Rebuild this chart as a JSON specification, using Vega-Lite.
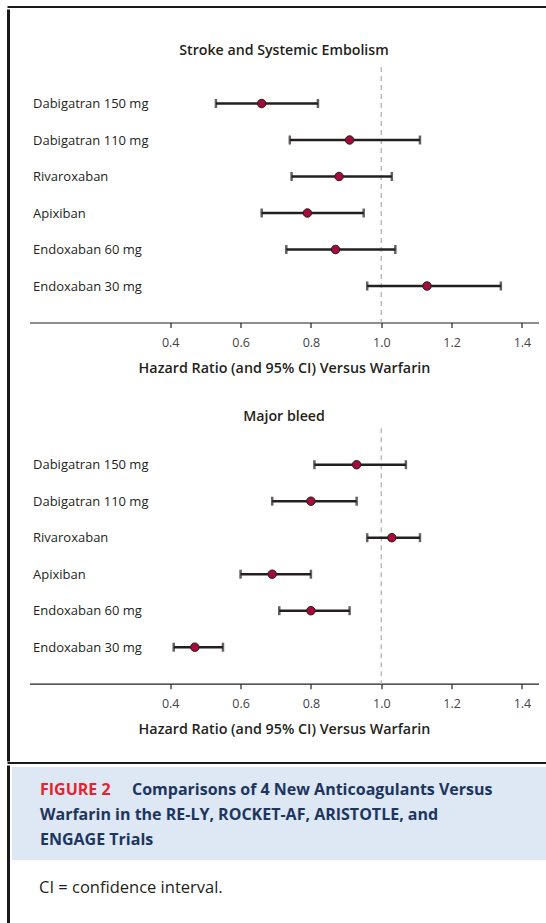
{
  "$schema": "https://vega.github.io/schema/vega-lite/v6.json",
  "padding": {"left": 6.5, "top": 6, "right": 0, "bottom": 0},
  "background": "white",
  "config": {
    "view": {"stroke": null},
    "font": "Open Sans",
    "axis": {"grid": false}
  },
  "spacing": 0,
  "vconcat": [
    {"width": 538, "height": 0.01, "view": {"stroke": "#1a1a1a", "strokeWidth": 2}, "data": {"values": []}, "mark": "point", "encoding": {}},
    {
      "spacing": 19,
      "hconcat": [
        {"width": 0.01, "height": 749, "view": {"stroke": "#1a1a1a", "strokeWidth": 3}, "data": {"values": []}, "mark": "point", "encoding": {}},
        {
          "spacing": 31,
          "vconcat": [
            {"width": 509, "height": 0.01, "data": {"values": []}, "mark": "point", "encoding": {}},
            {
              "spacing": 34.2,
              "vconcat": [
                {
                  "width": 509,
                  "height": 255.5,
                  "title": {"text": "Stroke and Systemic Embolism", "fontSize": 14.2, "fontWeight": 600, "color": "#231f20", "offset": 8.5, "font": "Open Sans"},
                  "data": {"values": [
                    {"drug": "Dabigatran 150 mg", "hr": 0.66, "lo": 0.53, "hi": 0.82},
                    {"drug": "Dabigatran 110 mg", "hr": 0.91, "lo": 0.74, "hi": 1.11},
                    {"drug": "Rivaroxaban", "hr": 0.88, "lo": 0.745, "hi": 1.03},
                    {"drug": "Apixiban", "hr": 0.79, "lo": 0.66, "hi": 0.95},
                    {"drug": "Endoxaban 60 mg", "hr": 0.87, "lo": 0.73, "hi": 1.04},
                    {"drug": "Endoxaban 30 mg", "hr": 1.13, "lo": 0.96, "hi": 1.34}
                  ]},
                  "layer": [
                    {
                      "data": {"values": [{"ref": 1}]},
                      "mark": {"type": "rule", "color": "#bdbdbd", "strokeWidth": 1.5, "strokeDash": [5, 4]},
                      "encoding": {
                        "x": {"field": "ref", "type": "quantitative", "scale": {"domain": [0, 1.447], "nice": false, "zero": false},
                          "axis": {"values": [0.4, 0.6, 0.8, 1.0, 1.2, 1.4], "format": ".1f", "title": "Hazard Ratio (and 95% CI) Versus Warfarin", "tickSize": 5, "tickColor": "#231f20", "domainColor": "#231f20", "domainWidth": 1.2, "tickWidth": 1.2, "labelFontSize": 12.5, "labelColor": "#444444", "labelPadding": 8.5, "labelFlush": false, "titleFontSize": 14.3, "titleFontWeight": 600, "titleColor": "#231f20", "titlePadding": 12.5}}
                      }
                    },
                    {
                      "mark": {"type": "errorbar", "ticks": {"size": 9, "thickness": 2.5, "color": "#231f20"}, "rule": {"strokeWidth": 2.6, "color": "#231f20"}},
                      "encoding": {
                        "x": {"field": "lo", "type": "quantitative", "title": "Hazard Ratio (and 95% CI) Versus Warfarin"},
                        "x2": {"field": "hi"},
                        "y": {"field": "drug", "type": "nominal", "sort": null, "scale": {"type": "point", "padding": 1},
                          "axis": {"title": null, "domain": false, "ticks": false, "labelAlign": "left", "labelPadding": -3, "labelFontSize": 13, "labelColor": "#231f20", "labelBaseline": "middle"}}
                      }
                    },
                    {
                      "mark": {"type": "circle", "size": 72, "color": "#a50b3a", "opacity": 1, "stroke": "#231f20", "strokeWidth": 1},
                      "encoding": {
                        "x": {"field": "hr", "type": "quantitative", "title": "Hazard Ratio (and 95% CI) Versus Warfarin"},
                        "y": {"field": "drug", "type": "nominal", "sort": null}
                      }
                    }
                  ]
                },
                {
                  "width": 509,
                  "height": 255.5,
                  "title": {"text": "Major bleed", "fontSize": 14.2, "fontWeight": 600, "color": "#231f20", "offset": 3, "font": "Open Sans"},
                  "data": {"values": [
                    {"drug": "Dabigatran 150 mg", "hr": 0.93, "lo": 0.81, "hi": 1.07},
                    {"drug": "Dabigatran 110 mg", "hr": 0.80, "lo": 0.69, "hi": 0.93},
                    {"drug": "Rivaroxaban", "hr": 1.03, "lo": 0.96, "hi": 1.11},
                    {"drug": "Apixiban", "hr": 0.69, "lo": 0.60, "hi": 0.80},
                    {"drug": "Endoxaban 60 mg", "hr": 0.80, "lo": 0.71, "hi": 0.91},
                    {"drug": "Endoxaban 30 mg", "hr": 0.47, "lo": 0.41, "hi": 0.55}
                  ]},
                  "layer": [
                    {
                      "data": {"values": [{"ref": 1}]},
                      "mark": {"type": "rule", "color": "#bdbdbd", "strokeWidth": 1.5, "strokeDash": [5, 4]},
                      "encoding": {
                        "x": {"field": "ref", "type": "quantitative", "scale": {"domain": [0, 1.447], "nice": false, "zero": false},
                          "axis": {"values": [0.4, 0.6, 0.8, 1.0, 1.2, 1.4], "format": ".1f", "title": "Hazard Ratio (and 95% CI) Versus Warfarin", "tickSize": 5, "tickColor": "#231f20", "domainColor": "#231f20", "domainWidth": 1.2, "tickWidth": 1.2, "labelFontSize": 12.5, "labelColor": "#444444", "labelPadding": 8.5, "labelFlush": false, "titleFontSize": 14.3, "titleFontWeight": 600, "titleColor": "#231f20", "titlePadding": 12.5}}
                      }
                    },
                    {
                      "mark": {"type": "errorbar", "ticks": {"size": 9, "thickness": 2.5, "color": "#231f20"}, "rule": {"strokeWidth": 2.6, "color": "#231f20"}},
                      "encoding": {
                        "x": {"field": "lo", "type": "quantitative", "title": "Hazard Ratio (and 95% CI) Versus Warfarin"},
                        "x2": {"field": "hi"},
                        "y": {"field": "drug", "type": "nominal", "sort": null, "scale": {"type": "point", "padding": 1},
                          "axis": {"title": null, "domain": false, "ticks": false, "labelAlign": "left", "labelPadding": -3, "labelFontSize": 13, "labelColor": "#231f20", "labelBaseline": "middle"}}
                      }
                    },
                    {
                      "mark": {"type": "circle", "size": 72, "color": "#a50b3a", "opacity": 1, "stroke": "#231f20", "strokeWidth": 1},
                      "encoding": {
                        "x": {"field": "hr", "type": "quantitative", "title": "Hazard Ratio (and 95% CI) Versus Warfarin"},
                        "y": {"field": "drug", "type": "nominal", "sort": null}
                      }
                    }
                  ]
                }
              ]
            }
          ]
        }
      ]
    },
    {"width": 538, "height": 0.01, "view": {"stroke": "#1a1a1a", "strokeWidth": 2}, "data": {"values": []}, "mark": "point", "encoding": {}},
    {
      "spacing": 1.5,
      "hconcat": [
        {"width": 0.01, "height": 159, "view": {"stroke": "#1a1a1a", "strokeWidth": 3}, "data": {"values": []}, "mark": "point", "encoding": {}},
        {
          "width": 537,
          "height": 93,
          "view": {"fill": "#dde8f4", "stroke": null},
          "title": {"text": "CI = confidence interval.", "orient": "bottom", "anchor": "start", "dx": 27, "offset": 20, "fontSize": 16.5, "fontWeight": "normal", "color": "#231f20", "font": "Open Sans"},
          "data": {"values": [
            {"line": "1", "seg": "FIGURE 2", "kind": "label", "part": "lead"},
            {"line": "1", "seg": "Comparisons of 4 New Anticoagulants Versus", "kind": "body", "part": "tail"},
            {"line": "2", "seg": "Warfarin in the RE-LY, ROCKET-AF, ARISTOTLE, and", "kind": "body", "part": "lead"},
            {"line": "3", "seg": "ENGAGE Trials", "kind": "body", "part": "lead"}
          ]},
          "encoding": {
            "y": {"field": "line", "type": "ordinal", "scale": {"type": "point", "padding": 0.86}, "axis": null},
            "x": {"datum": 0, "type": "quantitative", "scale": {"domain": [0, 1]}, "axis": null},
            "text": {"field": "seg"},
            "color": {"field": "kind", "type": "nominal", "scale": {"domain": ["label", "body"], "range": ["#e2252f", "#1c3660"]}, "legend": null}
          },
          "layer": [
            {"transform": [{"filter": "datum.part == 'lead'"}], "mark": {"type": "text", "align": "left", "baseline": "middle", "dx": 28, "dy": 1, "fontSize": 16, "fontWeight": 700}},
            {"transform": [{"filter": "datum.part == 'tail'"}], "mark": {"type": "text", "align": "left", "baseline": "middle", "dx": 120, "dy": 1, "fontSize": 16, "fontWeight": 700}}
          ]
        }
      ]
    }
  ]
}
